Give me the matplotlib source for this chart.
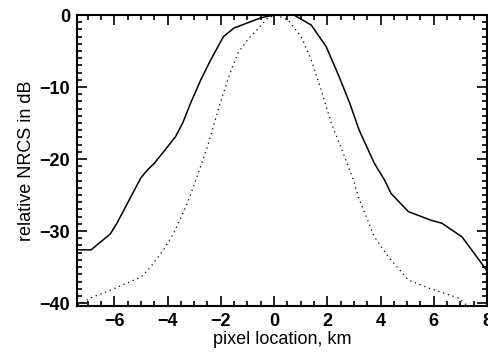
import matplotlib
matplotlib.use("Agg")
import matplotlib.pyplot as plt
from matplotlib.ticker import MultipleLocator

# solid curve
solid_x = [-7.4, -6.87, -6.15, -5.9, -5.5, -5.0, -4.75, -4.5, -4.15, -3.7, -3.43, -3.13,
           -2.75, -2.38, -1.9, -1.5, -1.0, -0.5, 0.0, 0.75, 1.4, 1.96, 2.45, 2.84, 3.2,
           3.77, 4.15, 4.4, 5.05, 5.9, 6.3, 7.06, 8.0]
solid_y = [-32.6, -32.6, -30.4, -28.9, -26.1, -22.6, -21.5, -20.6, -19.0, -16.9, -15.0, -12.2,
           -9.0, -6.25, -3.0, -1.8, -1.1, -0.4, 0.0, 0.0, -1.4, -4.4, -8.6, -12.2, -16.0,
           -20.6, -22.9, -24.8, -27.3, -28.5, -28.9, -30.8, -35.5]

# dotted curve
dot_x = [-7.36, -6.9, -6.15, -5.0, -4.64, -4.15, -3.77, -3.25, -2.83, -2.5, -2.1, -1.74,
         -1.36, -0.94, -0.75, -0.23, 0.08, 0.53, 1.02, 1.4, 1.77, 2.15, 2.6, 2.98, 3.17,
         3.77, 4.3, 5.05, 5.8, 6.94, 7.3]
dot_y = [-40.3, -39.3, -38.2, -36.4, -35.0, -32.6, -30.3, -26.1, -21.8, -18.3, -13.2, -9.0,
         -5.3, -3.2, -2.5, -0.4, 0.0, -0.7, -3.0, -6.25, -10.4, -15.0, -19.2, -22.9, -25.3,
         -30.8, -33.6, -36.8, -37.9, -39.3, -40.5]

xticks = [-6, -4, -2, 0, 2, 4, 6, 8]
yticks = [-40, -30, -20, -10, 0]

plt.rcParams['font.family'] = ['Liberation Sans', 'DejaVu Sans']
plt.rcParams['axes.unicode_minus'] = True

fig = plt.figure(figsize=(4.89, 3.52), dpi=100)
ax = fig.add_axes([77/489, 1-306/352, (487-77)/489, (306-15)/352])

ax.plot(solid_x, solid_y, color='black', lw=1.1, solid_joinstyle='miter')
ax.plot(dot_x, dot_y, color='black', lw=0.9, linestyle=(0, (1, 3)))

ax.set_xlim(-7.4, 8.0)
ax.set_ylim(-40.4, 0.0)
ax.set_xticks(xticks)
ax.set_yticks(yticks)
ax.set_xticklabels([f"\u2212{abs(v)}" if v < 0 else str(v) for v in xticks],
                   fontsize=13, fontweight='bold')
ax.set_yticklabels([f"\u2212{abs(v)}" if v < 0 else str(v) for v in yticks],
                   fontsize=13, fontweight='bold')
ax.xaxis.set_minor_locator(MultipleLocator(0.5))
ax.yaxis.set_minor_locator(MultipleLocator(1))
ax.tick_params(which='both', direction='in', top=True, right=True, width=1.2)
ax.tick_params(axis='x', which='major', length=7, pad=5)
ax.tick_params(axis='y', which='major', length=7, pad=5)
ax.tick_params(which='minor', length=3.5)
for s in ax.spines.values():
    s.set_linewidth(1.5)

ax.set_xlabel('pixel location, km', fontsize=13, labelpad=1)
ax.set_ylabel('relative NRCS in dB', fontsize=13, labelpad=3)

fig.savefig('out.png', dpi=100)
